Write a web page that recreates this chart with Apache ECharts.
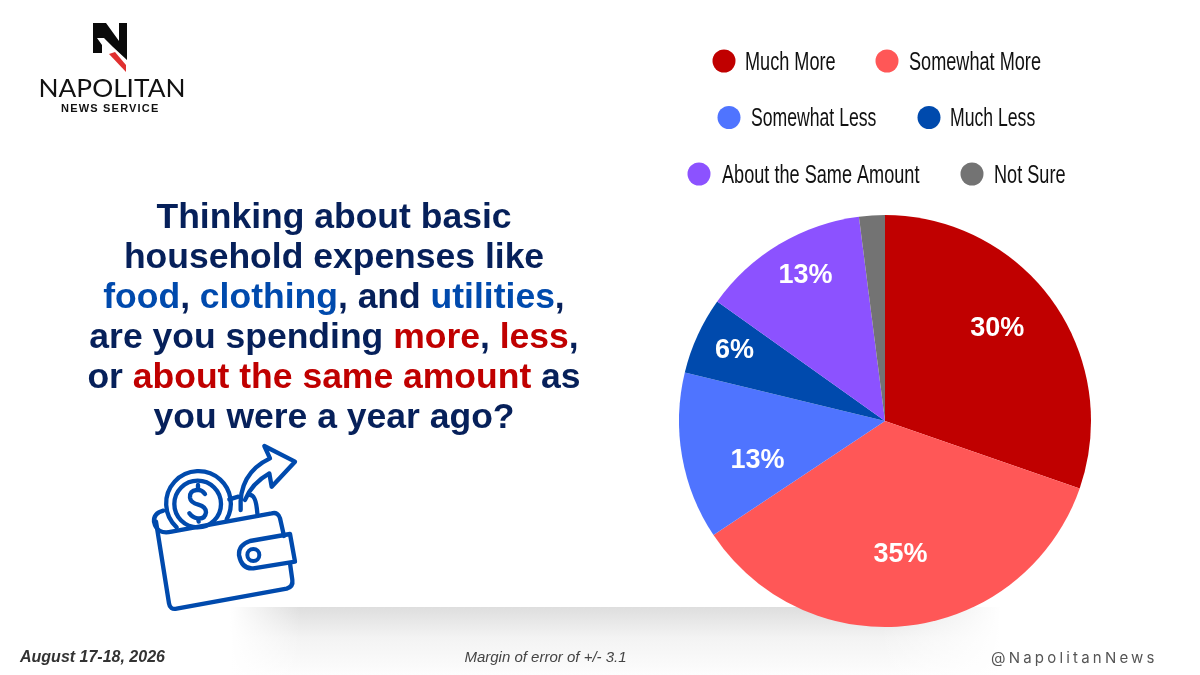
<!DOCTYPE html>
<html><head><meta charset="utf-8">
<style>html,body{margin:0;padding:0;background:#fff}#c{width:1200px;height:675px}</style>
<script src="https://cdn.jsdelivr.net/npm/echarts@6/dist/echarts.min.js"></script>
</head><body><div id="c"></div>
<script>
const categories = ['Much More','Somewhat More','Somewhat Less','Much Less','About the Same Amount','Not Sure'];
const values = [30,35,13,6,13,2];
const colors = ['#c00000','#ff5757','#4f74ff','#004aad','#8c52ff','#737373'];
const legendCx = [724,887,729,929,699,972];
const legendCy = [61,61,117.5,117.5,174,174];
const legendTextX = [745,909,751,950,722,994];
const legendScale = [0.725,0.725,0.705,0.705,0.725,0.725];
const labelOffsets = [[26,-31],[2,28],[-23,21],[-54,-26],[-25,-55],[0,0]];
const NAVY='#06205a', BLUE='#004aad', RED='#c00000';
const HANDLE='@NapolitanNews', LOGO_SUB='NEWS SERVICE';
const spacing = {[HANDLE]:'3.2px',[LOGO_SUB]:'1.2px'};

// canvas letter-spacing for the two tracked-out strings
const proto = CanvasRenderingContext2D.prototype, baseFill = proto.fillText;
proto.fillText = function(t,x,y,m){
  if (spacing[t]) { this.letterSpacing = spacing[t]; baseFill.call(this,t,x,y); this.letterSpacing='0px'; }
  else if (m===undefined) baseFill.call(this,t,x,y); else baseFill.call(this,t,x,y,m);
};

const chart = echarts.init(document.getElementById('c'),null,{renderer:'canvas'});
const wallet = [
 'M78 275L117 520Q120 540 140 536L470 476Q490 470 487 450L480 400',
 'M462 318L450 265Q445 245 425 250L125 305Q80 315 72 275Q70 250 100 242',
 'M480 312L360 333Q325 345 327 375Q335 418 370 415L495 395Z',
 'M140 292A97 97 0 1 1 290 268',
 'M225 192Q215 178 200 180Q178 182 180 203Q182 218 205 224Q228 230 228 247Q225 268 203 265Q187 263 178 250M204 165L204 180M204 265L206 275',
 'M332 240Q325 130 420 85L403 48L495 95L425 170L418 130Q365 160 345 210',
 'M298 208L325 200M360 195Q378 195 382 250'
];
const walletEls = wallet.map(d=>({type:'path',shape:{pathData:d},style:{fill:null,stroke:BLUE,lineWidth:13,lineJoin:'round',lineCap:'round'}}));
walletEls.push({type:'circle',shape:{cx:203,cy:222,r:70},style:{fill:null,stroke:BLUE,lineWidth:13}});
walletEls.push({type:'circle',shape:{cx:370,cy:375,r:18},style:{fill:null,stroke:BLUE,lineWidth:12}});

const rich = {n:{fill:NAVY},b:{fill:BLUE},r:{fill:RED}};
for (const k in rich){Object.assign(rich[k],{font:'bold 35.5px "Liberation Sans"',lineHeight:40});}
const titleText = ['{n|Thinking about basic}','{n|household expenses like}','{b|food}{n|, }{b|clothing}{n|, and }{b|utilities}{n|,}','{n|are you spending }{r|more}{n|, }{r|less}{n|,}','{n|or }{r|about the same amount}{n| as}','{n|you were a year ago?}'].join('\n');

chart.setOption({
 animation:false,
 backgroundColor:'#fff',
 legend: categories.map((c,i)=>({
   data:[c],left:legendCx[i]-16.5,top:legendCy[i]-16.5,icon:'circle',itemWidth:23,itemHeight:23,selectedMode:false,formatter:()=>'',
   textStyle:{fontSize:1}
 })),
 graphic:[
  {type:'rect',z:0,shape:{x:230,y:607,width:770,height:68},style:{fill:new echarts.graphic.LinearGradient(0,0,0,1,[{offset:0,color:'#dedede'},{offset:.45,color:'#f3f3f3'},{offset:1,color:'#fdfdfd'}])}},
  {type:'rect',z:0,shape:{x:230,y:607,width:70,height:68},style:{fill:new echarts.graphic.LinearGradient(0,0,1,0,[{offset:0,color:'rgba(255,255,255,1)'},{offset:1,color:'rgba(255,255,255,0)'}])}},
  {type:'rect',z:0,shape:{x:880,y:607,width:121,height:68},style:{fill:new echarts.graphic.LinearGradient(0,0,1,0,[{offset:0,color:'rgba(255,255,255,0)'},{offset:1,color:'rgba(255,255,255,1)'}])}},
  {type:'text',style:{text:titleText,rich:rich,x:334,y:198,align:'center',verticalAlign:'top'}},
  ...categories.map((c,i)=>({type:'text',x:legendTextX[i],y:legendCy[i]+2,scaleX:legendScale[i],style:{text:c,x:0,y:0,verticalAlign:'middle',font:'25px "Liberation Sans"',fill:'#111'}})),
  {type:'text',x:112,y:89,scaleX:1.05,style:{text:'NAPOLITAN',x:0,y:0,align:'center',verticalAlign:'middle',font:'400 25px Lato',fill:'#111'}},
  {type:'text',style:{text:LOGO_SUB,x:61,y:108.5,verticalAlign:'middle',font:'bold 11px "Liberation Sans"',fill:'#111'}},
  {type:'text',style:{text:'August 17-18, 2026',x:20,y:658,verticalAlign:'middle',font:'italic bold 16px "Liberation Sans"',fill:'#333'}},
  {type:'text',style:{text:'Margin of error of +/- 3.1',x:545.5,y:658,align:'center',verticalAlign:'middle',font:'italic 15px "Liberation Sans"',fill:'#444'}},
  {type:'text',style:{text:HANDLE,x:991,y:658,verticalAlign:'middle',font:'15px Inter',fill:'#555'}}
 ],
 series:[{
  type:'pie',center:[885,421],radius:[0,206],startAngle:90,clockwise:true,
  data:categories.map((c,i)=>({name:c,value:values[i],itemStyle:{color:colors[i]},label:{show:i<5}})),
  label:{show:true,position:'inside',formatter:p=>p.value+'%',color:'#fff',fontFamily:'Liberation Sans',fontWeight:'bold',fontSize:27},
  labelLayout:p=>({dx:labelOffsets[p.dataIndex][0],dy:labelOffsets[p.dataIndex][1]}),
  labelLine:{show:false},
  emphasis:{disabled:true}
 },{
  type:'custom',coordinateSystem:'none',silent:true,data:[0],legendHoverLink:false,
  renderItem:()=>({type:'group',children:[
    {type:'group',x:130,y:430,scaleX:1/3,scaleY:1/3,children:walletEls},
    {type:'polygon',shape:{points:[[93,23],[106,23],[119,41],[119,23],[127,23],[127,60],[113,47],[104,38],[97,38],[102,45],[102,53],[93,53]]},style:{fill:'#0a0a0a'}},
    {type:'polygon',shape:{points:[[109,54],[115,52],[126,65],[126,72]]},style:{fill:'#e03030'}}
  ]})
 }]
});
</script></body></html>
